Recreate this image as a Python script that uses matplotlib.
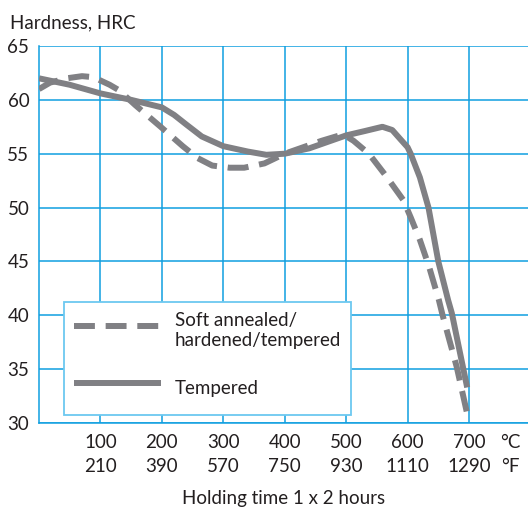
import matplotlib
matplotlib.use('Agg')
import matplotlib.pyplot as plt

# ----------------------------------------------------------------
# Data (temperature in °C, hardness in HRC)
# ----------------------------------------------------------------
temp_soft = [0, 18, 45, 70, 90, 100, 115, 130, 157, 198, 234, 258, 282, 310,
             334, 367, 400, 430, 460, 495, 512, 537, 564, 593, 605, 620, 635,
             651, 657, 680, 698]
hrc_soft = [61.0, 61.6, 62.0, 62.2, 62.1, 61.8, 61.4, 60.9, 59.5, 57.5, 55.7,
            54.6, 53.9, 53.7, 53.7, 54.1, 55.0, 55.6, 56.2, 56.8, 56.2, 55.0,
            53.0, 50.7, 49.1, 47.0, 44.5, 41.4, 40.0, 35.2, 30.6]

temp_temp = [0, 50, 100, 150, 200, 220, 240, 265, 300, 340, 370, 400, 440,
             470, 500, 530, 559, 575, 589, 600, 605, 620, 634, 650, 666, 672,
             685, 697]
hrc_temp = [62.0, 61.4, 60.6, 60.0, 59.3, 58.6, 57.7, 56.6, 55.7, 55.2, 54.9,
            55.0, 55.5, 56.1, 56.7, 57.1, 57.5, 57.2, 56.3, 55.6, 55.0, 52.8,
            50.0, 45.0, 41.4, 40.2, 36.6, 33.3]

ticks_c = [100, 200, 300, 400, 500, 600, 700]
ticks_f = [210, 390, 570, 750, 930, 1110, 1290]
ticks_hrc = [30, 35, 40, 45, 50, 55, 60, 65]

label_soft = 'Soft annealed/\nhardened/tempered'
label_temp = 'Tempered'

# ----------------------------------------------------------------
# Style
# ----------------------------------------------------------------
plt.rcParams['font.family'] = ['Lato', 'DejaVu Sans']
blue = '#109fe0'
grey = '#808084'
txt = '#231f20'
fs = 13.5

fig = plt.figure(figsize=(5.28, 5.09), dpi=100)
ax = fig.add_axes([39 / 528, 86 / 509, 489 / 528, 377 / 509])

ax.plot(temp_soft, hrc_soft, color=grey, lw=4.3, dashes=(3.5, 1.8),
        dash_capstyle='butt', solid_joinstyle='round', label=label_soft,
        zorder=3)
ax.plot(temp_temp, hrc_temp, color=grey, lw=4.3, solid_capstyle='butt',
        solid_joinstyle='round', label=label_temp, zorder=3)

ax.set_xlim(0, 796)
ax.set_ylim(30, 65)
ax.set_yticks(ticks_hrc)
ax.set_xticks(ticks_c, [f'{c}\n{f}' for c, f in zip(ticks_c, ticks_f)])
ax.set_xticks([768], ['°C\n°F'], minor=True)

ax.grid(True, which='major', color=blue, lw=1.1)
ax.set_axisbelow(True)
for s in ['top', 'right']:
    ax.spines[s].set_visible(False)
for s in ['left', 'bottom']:
    ax.spines[s].set_color(blue)
    ax.spines[s].set_linewidth(1.1)

ax.tick_params(axis='both', which='both', length=0, labelsize=fs,
               labelcolor=txt)
ax.tick_params(axis='y', pad=7)
ax.tick_params(axis='x', which='both', pad=8)
for lab in ax.get_xticklabels(which='both'):
    lab.set_linespacing(1.5)

ax.set_xlabel('Holding time 1 x 2 hours', fontsize=fs, color=txt, labelpad=11)
fig.text(10 / 528, 1 - 23 / 509, 'Hardness, HRC', fontsize=fs, color=txt,
         ha='left', va='center')

leg = ax.legend(loc='lower left', bbox_to_anchor=(0.051, 0.021, 0.587, 0.308),
                mode='expand', borderaxespad=0, fontsize=fs, handlelength=4.6,
                handletextpad=0.75, labelspacing=1.25, borderpad=0.55,
                handleheight=2.3, fancybox=False, framealpha=1,
                edgecolor='#6cc8f0', labelcolor=txt)
leg.get_frame().set_linewidth(1.3)

plt.savefig('out.png', dpi=100)
plt.close()
